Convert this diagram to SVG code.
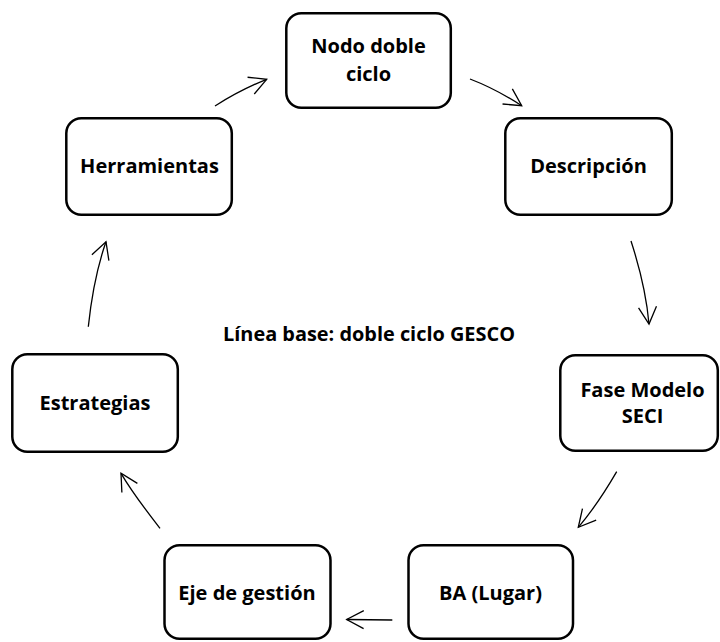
<svg xmlns="http://www.w3.org/2000/svg" width="720" height="642" viewBox="0 0 720 642">
<style>
.box{fill:#fff;stroke:#000;stroke-width:2.5}
.t{font-family:"Open Sans","Liberation Sans",sans-serif;font-weight:bold;font-size:20px;fill:#000;text-anchor:middle}
.c{font-size:19.9px}
.arr{fill:none;stroke:#000;stroke-width:1.3;marker-end:url(#head)}
</style>
<defs>
<marker id="head" markerUnits="userSpaceOnUse" markerWidth="40" markerHeight="40" refX="0" refY="0" orient="auto" overflow="visible">
<path d="M-17,-9 L0,0 L-17,9" fill="none" stroke="#000" stroke-width="1.3" stroke-linejoin="miter"/>
</marker>
</defs>
<rect width="720" height="642" fill="#fff"/>
<g id="connectors">
<path class="arr" d="M215,106 Q240,90 266.7,79.3"/>
<path class="arr" d="M470,79 Q496,89 521.7,105.7"/>
<path class="arr" d="M631,241 Q645.7,286.3 649,324"/>
<path class="arr" d="M616.7,471.7 Q597.7,504.5 578.3,527.3"/>
<path class="arr" d="M392.3,620 L346.7,619.5"/>
<path class="arr" d="M160,528.3 Q133.2,494 121,473.3"/>
<path class="arr" d="M88.3,326.7 Q93.5,277.5 106,241.7"/>
</g>
<g id="node-nodo">
<rect class="box" x="286.3" y="13.3" width="164.5" height="94.5" rx="15"/>
<text class="t" x="368.5" y="53.3">Nodo doble</text>
<text class="t" x="368.5" y="80.5">ciclo</text>
</g>
<g id="node-descripcion">
<rect class="box" x="505.3" y="118.3" width="166.5" height="96.5" rx="15"/>
<text class="t" x="588.5" y="172.7">Descripción</text>
</g>
<g id="node-fase">
<rect class="box" x="560.3" y="355.3" width="157.5" height="95.5" rx="15"/>
<text class="t" x="642.5" y="396.7">Fase Modelo</text>
<text class="t" x="642.5" y="422.7">SECI</text>
</g>
<g id="node-ba">
<rect class="box" x="408.5" y="545.3" width="164.5" height="93.5" rx="15"/>
<text class="t" x="490.5" y="600">BA (Lugar)</text>
</g>
<g id="node-eje">
<rect class="box" x="164.5" y="545.3" width="166" height="93.5" rx="15"/>
<text class="t" x="247" y="599.5">Eje de gestión</text>
</g>
<g id="node-estrategias">
<rect class="box" x="12.3" y="354.3" width="165.5" height="97.5" rx="15"/>
<text class="t" x="95" y="410">Estrategias</text>
</g>
<g id="node-herramientas">
<rect class="box" x="66.3" y="118.3" width="165.5" height="96.5" rx="15"/>
<text class="t" x="149.5" y="172.7">Herramientas</text>
</g>
<g id="center-label">
<text class="t c" x="369" y="341">Línea base: doble ciclo GESCO</text>
</g>
</svg>
